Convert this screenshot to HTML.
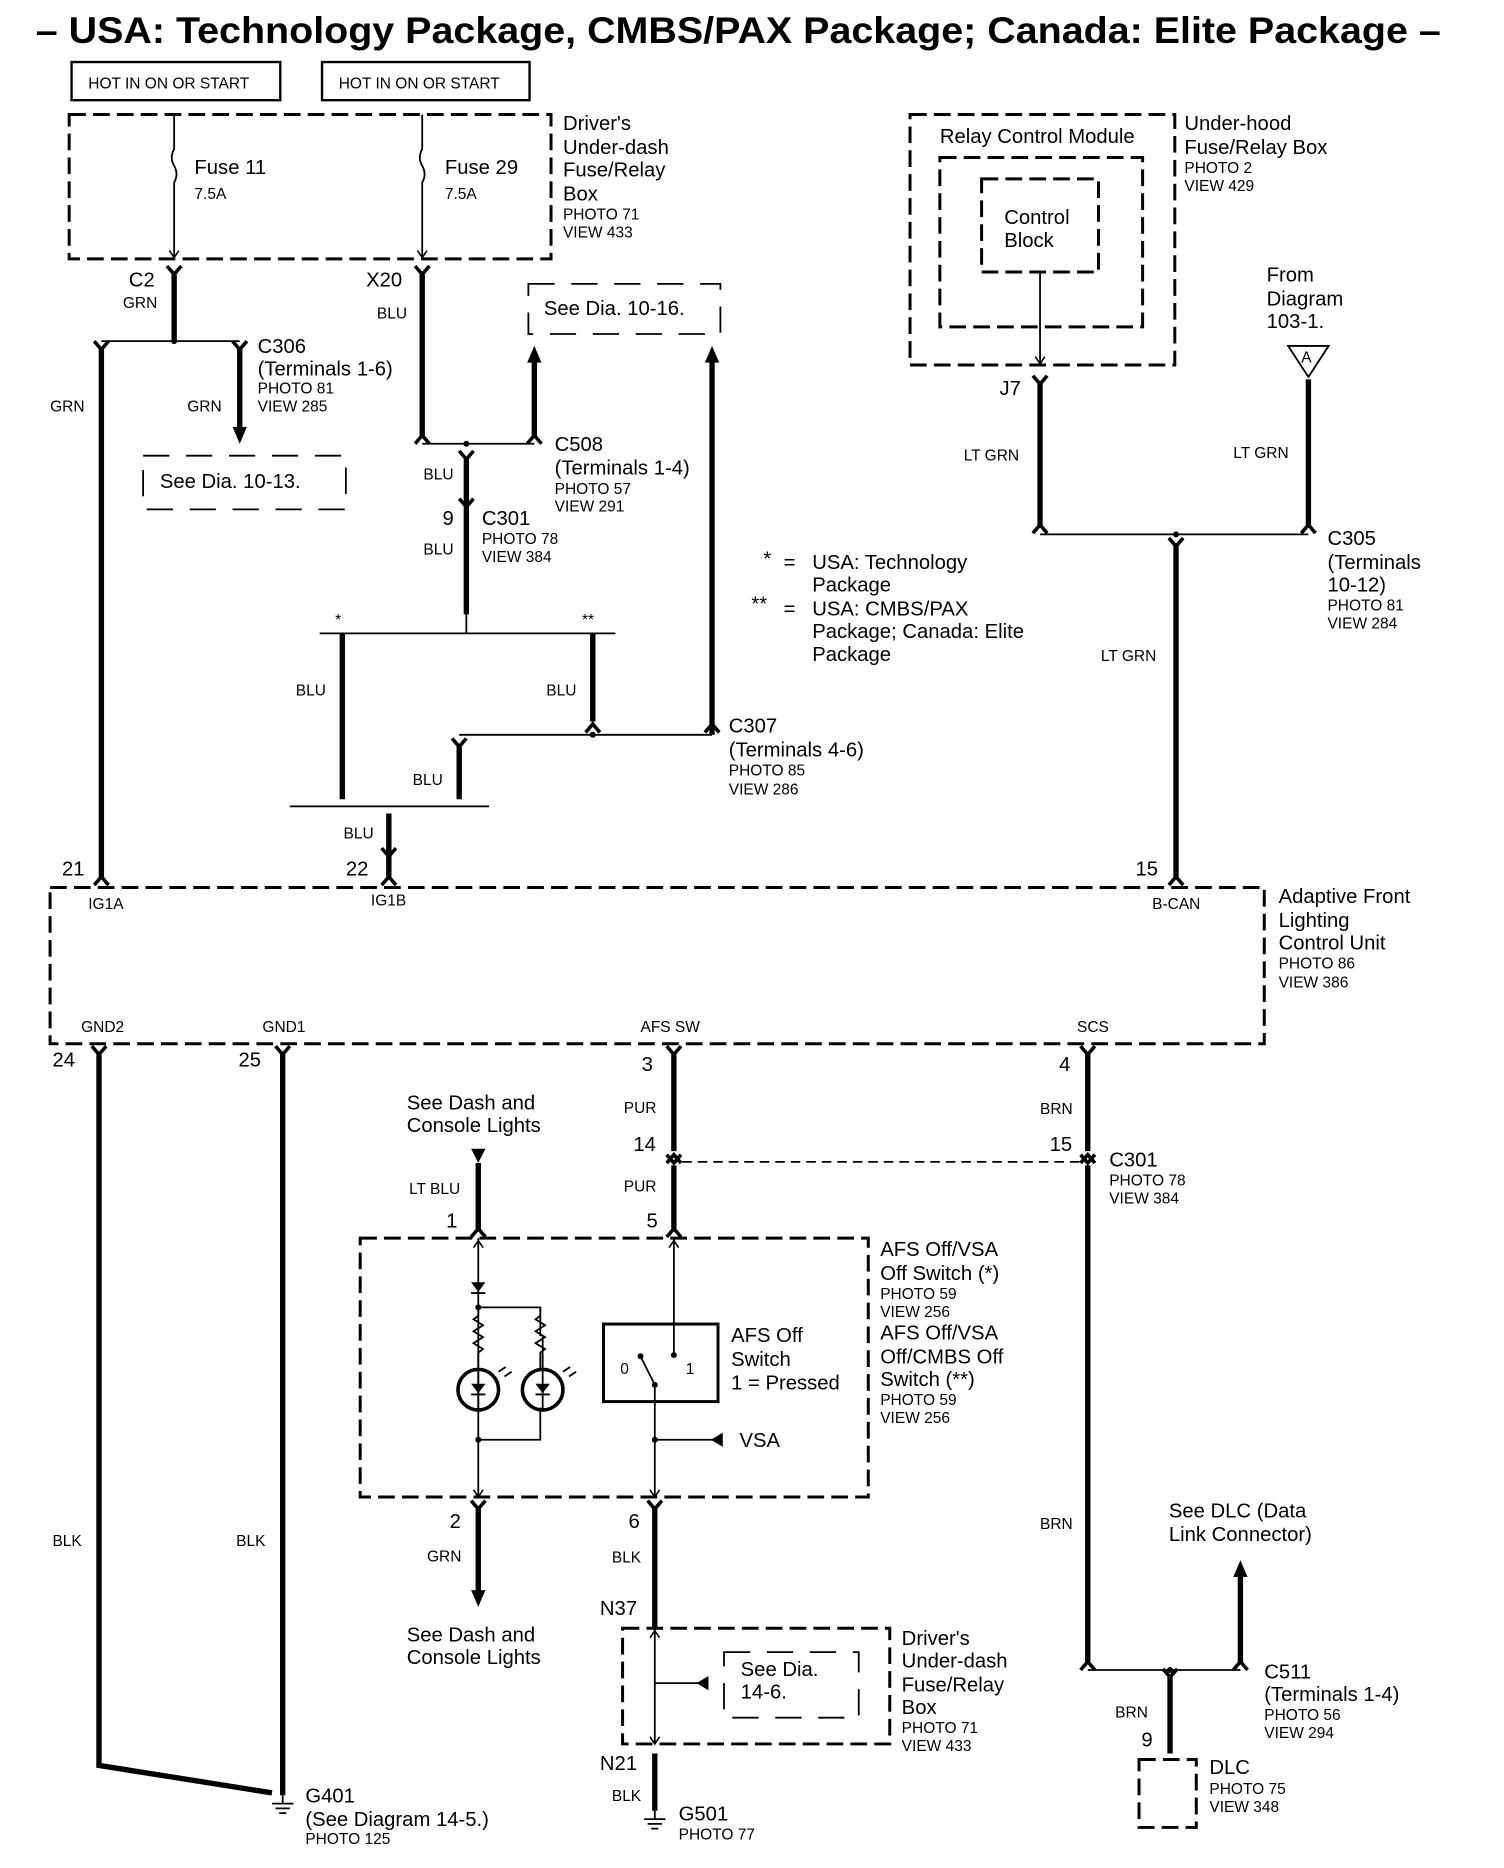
<!DOCTYPE html>
<html><head><meta charset="utf-8"><style>
html,body{margin:0;padding:0;background:#fff}
svg{display:block}
text{font-family:"Liberation Sans",Arial,sans-serif;fill:#000}
.m{font-size:17px}.s{font-size:13px}
</style></head><body>
<svg width="1504" height="1868" viewBox="0 0 1261 1566" preserveAspectRatio="none" xmlns="http://www.w3.org/2000/svg">
<defs>
<g id="fd"><path d="M-6,-7 L0,0 L6,-7" fill="none" stroke="#000" stroke-width="3"/></g>
<g id="fu"><path d="M-6,7 L0,0 L6,7" fill="none" stroke="#000" stroke-width="3"/></g>
<g id="ad"><path d="M-4,-6 L0,0 L4,-6" fill="none" stroke="#000" stroke-width="1.3"/></g>
<g id="au"><path d="M-4,6 L0,0 L4,6" fill="none" stroke="#000" stroke-width="1.3"/></g>
</defs>
<g fill="none" stroke="#000">
<text x="30" y="36" font-size="31" font-weight="bold" textLength="1178" lengthAdjust="spacingAndGlyphs" stroke="none">– USA: Technology Package, CMBS/PAX Package; Canada: Elite Package –</text>
<rect x="60" y="52" width="175" height="32" stroke-width="2"/>
<rect x="270" y="52" width="174" height="32" stroke-width="2"/>
<g stroke-width="2.5" stroke-dasharray="14,6">
<rect x="58" y="96" width="404" height="121"/>
<rect x="763" y="96" width="222" height="210"/>
<rect x="788" y="132" width="170" height="142"/>
<rect x="823" y="150" width="98" height="78"/>
<rect x="42" y="744" width="1018" height="131"/>
<rect x="302" y="1038" width="426" height="217"/>
<rect x="522" y="1365" width="224" height="97"/>
<rect x="955" y="1475" width="48" height="57"/>
</g>
<g stroke-width="1.5" stroke-dasharray="22,14">
<rect x="120" y="382" width="170" height="45"/>
<rect x="443" y="238" width="161" height="42"/>
<rect x="607" y="1385" width="113" height="55"/>
</g>
<g stroke-width="1.5">
<path d="M146,96 V125 q-4,7 0,14 q4,7 0,14 V215"/>
<path d="M354,96 V125 q-4,7 0,14 q4,7 0,14 V215"/>
<path d="M872,228 V304"/>
</g>
<use href="#ad" x="146" y="216"/><use href="#ad" x="354" y="216"/><use href="#ad" x="872" y="305"/>
<g stroke-width="4.5">
<path d="M146,230 V285"/><path d="M354,230 V365"/>
<path d="M85,293 V735"/><path d="M201,293 V360"/>
<path d="M448,365 V300"/><path d="M391,385 V515"/>
<path d="M287,531 V670"/><path d="M497,531 V605"/>
<path d="M597,616 V300"/><path d="M385,626 V670"/>
<path d="M326,682 V735"/>
<path d="M872,322 V440"/><path d="M1097,318 V440"/><path d="M986,458 V735"/>
<path d="M83,884 V1480 L228,1503"/><path d="M237,884 V1505"/>
<path d="M565,884 V965"/><path d="M565,977 V1030"/>
<path d="M912,884 V965"/><path d="M912,977 V1393"/>
<path d="M401,975 V1030"/>
<path d="M401,1265 V1335"/><path d="M549,1265 V1365"/>
<path d="M549,1470 V1518"/>
<path d="M1040,1393 V1320"/><path d="M981,1406 V1470"/>
</g>
<use href="#fd" x="146" y="230"/><use href="#fd" x="354" y="230"/>
<use href="#fd" x="85" y="293"/><use href="#fd" x="201" y="293"/>
<use href="#fu" x="354" y="365"/><use href="#fu" x="448" y="365"/>
<use href="#fd" x="391" y="385"/><use href="#fd" x="391" y="425"/>
<use href="#fu" x="497" y="607"/><use href="#fu" x="597" y="607"/>
<use href="#fd" x="385" y="626"/><use href="#fd" x="326" y="718"/>
<use href="#fu" x="85" y="735"/><use href="#fu" x="326" y="735"/><use href="#fu" x="986" y="735"/>
<use href="#fd" x="872" y="322"/><use href="#fu" x="872" y="440"/><use href="#fu" x="1097" y="440"/><use href="#fd" x="986" y="458"/>
<use href="#fd" x="83" y="884"/><use href="#fd" x="237" y="884"/><use href="#fd" x="565" y="884"/><use href="#fd" x="912" y="884"/>
<use href="#fu" x="565" y="968"/><use href="#fd" x="565" y="975"/><use href="#fu" x="912" y="968"/><use href="#fd" x="912" y="975"/>
<use href="#fu" x="401" y="1030"/><use href="#fu" x="565" y="1030"/>
<use href="#fd" x="401" y="1265"/><use href="#fd" x="549" y="1265"/>
<use href="#fu" x="912" y="1393"/><use href="#fu" x="1040" y="1393"/><use href="#fd" x="981" y="1406"/>
<g fill="#000" stroke="none">
<path d="M195,358 L207,358 L201,372 Z"/>
<path d="M442,304 L454,304 L448,290 Z"/>
<path d="M591,304 L603,304 L597,290 Z"/>
<path d="M395,963 L407,963 L401,975 Z"/>
<path d="M395,1333 L407,1333 L401,1347 Z"/>
<path d="M1034,1322 L1046,1322 L1040,1308 Z"/>
<path d="M606,1201 L606,1213 L596,1207 Z"/>
<path d="M594,1405 L594,1417 L584,1411 Z"/>
<circle cx="146" cy="286" r="2.5"/><circle cx="391" cy="372" r="2.5"/><circle cx="497" cy="616" r="2.5"/>
<circle cx="986" cy="448" r="2.5"/><circle cx="981" cy="1400" r="2.5"/>
<circle cx="401" cy="1096" r="2.5"/><circle cx="401" cy="1207" r="2.5"/><circle cx="549" cy="1207" r="2.5"/>
<circle cx="549" cy="1161" r="2.5"/><circle cx="537" cy="1137" r="2.5"/><circle cx="565" cy="1136" r="2.5"/>
</g>
<g stroke-width="1.5">
<path d="M85,286 H201"/><path d="M354,372 H448"/>
<path d="M268,531 H516"/><path d="M391,515 V531"/>
<path d="M385,616 H597"/><path d="M243,676 H410"/>
<path d="M872,448 H1097"/>
<path d="M912,1400 H1040"/>
<path d="M401,1038 V1255"/><path d="M401,1096 H453 V1120"/><path d="M401,1207 H453 V1180"/>
<path d="M401,1096 V1103 l-4,3 8,5 -8,5 8,5 -8,5 8,5 -4,3 V1148"/>
<path d="M453,1096 V1103 l-4,3 8,5 -8,5 8,5 -8,5 8,5 -4,3 V1148"/>
<path d="M565,1038 V1136"/><path d="M549,1161 V1255"/><path d="M549,1161 L537,1137"/>
<path d="M549,1207 H600"/>
<path d="M549,1365 V1462"/><path d="M549,1411 H588"/>
<path d="M572,974 H912" stroke-dasharray="8,5"/>
<path d="M1080,290 H1114 L1097,316 Z"/>
<path d="M237,1505 V1512 M228,1512 H246 M231,1516 H243 M234,1520 H240"/>
<path d="M549,1518 V1525 M540,1525 H558 M543,1529 H555 M546,1533 H552"/>
</g>
<use href="#au" x="401" y="1040"/><use href="#au" x="565" y="1040"/><use href="#ad" x="401" y="1255"/><use href="#ad" x="549" y="1255"/>
<use href="#au" x="549" y="1367"/><use href="#ad" x="549" y="1462"/>
<g stroke-width="3"><circle cx="401" cy="1165" r="17"/><circle cx="455" cy="1165" r="17"/>
<rect x="506" y="1110" width="96" height="65" stroke-width="2.5"/></g>
<g fill="#000" stroke="none">
<path d="M395,1075 H407 L401,1083 Z"/><path d="M395,1160 H407 L401,1168 Z"/><path d="M449,1160 H461 L455,1168 Z"/>
</g>
<g stroke-width="1.5"><path d="M395,1084 H407 M395,1169 H407 M449,1169 H461 M401,1148 V1183 M455,1120 V1183"/>
<path d="M418,1150 l6,-4 M423,1154 l6,-4 M472,1150 l6,-4 M477,1154 l6,-4"/></g>
</g>
<g stroke="none">
<text class="s" x="74" y="74">HOT IN ON OR START</text><text class="s" x="284" y="74">HOT IN ON OR START</text>
<text class="m" x="163" y="146">Fuse 11</text><text class="s" x="163" y="167">7.5A</text>
<text class="m" x="373" y="146">Fuse 29</text><text class="s" x="373" y="167">7.5A</text>
<text class="m" x="472" y="109">Driver's</text><text class="m" x="472" y="129">Under-dash</text><text class="m" x="472" y="148">Fuse/Relay</text><text class="m" x="472" y="168">Box</text><text class="s" x="472" y="184">PHOTO 71</text><text class="s" x="472" y="199">VIEW 433</text>
<text class="m" x="108" y="240">C2</text><text class="s" x="103" y="258">GRN</text>
<text class="m" x="307" y="240">X20</text><text class="s" x="316" y="267">BLU</text>
<text class="s" x="42" y="345">GRN</text><text class="s" x="157" y="345">GRN</text>
<text class="m" x="216" y="296">C306</text><text class="m" x="216" y="315">(Terminals 1-6)</text><text class="s" x="216" y="330">PHOTO 81</text><text class="s" x="216" y="345">VIEW 285</text>
<text class="m" x="134" y="409">See Dia. 10-13.</text><text class="m" x="456" y="264">See Dia. 10-16.</text>
<text class="m" x="465" y="378">C508</text><text class="m" x="465" y="398">(Terminals 1-4)</text><text class="s" x="465" y="414">PHOTO 57</text><text class="s" x="465" y="429">VIEW 291</text>
<text class="s" x="355" y="402">BLU</text><text class="m" x="371" y="440">9</text><text class="m" x="404" y="440">C301</text><text class="s" x="404" y="456">PHOTO 78</text><text class="s" x="404" y="471">VIEW 384</text><text class="s" x="355" y="465">BLU</text>
<text class="s" x="281" y="524">*</text><text class="s" x="488" y="524">**</text>
<text class="s" x="248" y="583">BLU</text><text class="s" x="458" y="583">BLU</text><text class="s" x="346" y="658">BLU</text><text class="s" x="288" y="703">BLU</text>
<text class="m" x="611" y="614">C307</text><text class="m" x="611" y="634">(Terminals 4-6)</text><text class="s" x="611" y="650">PHOTO 85</text><text class="s" x="611" y="666">VIEW 286</text>
<text class="m" x="640" y="474">*</text><text class="m" x="657" y="477">=</text><text class="m" x="681" y="477">USA: Technology</text><text class="m" x="681" y="496">Package</text>
<text class="m" x="630" y="512">**</text><text class="m" x="657" y="516">=</text><text class="m" x="681" y="516">USA: CMBS/PAX</text><text class="m" x="681" y="535">Package; Canada: Elite</text><text class="m" x="681" y="554">Package</text>
<text class="m" x="788" y="120">Relay Control Module</text><text class="m" x="842" y="188">Control</text><text class="m" x="842" y="207">Block</text>
<text class="m" x="993" y="109">Under-hood</text><text class="m" x="993" y="129">Fuse/Relay Box</text><text class="s" x="993" y="145">PHOTO 2</text><text class="s" x="993" y="160">VIEW 429</text>
<text class="m" x="1062" y="236">From</text><text class="m" x="1062" y="256">Diagram</text><text class="m" x="1062" y="275">103-1.</text>
<text class="s" x="1091" y="304">A</text>
<text class="m" x="838" y="331">J7</text><text class="s" x="808" y="386">LT GRN</text><text class="s" x="1034" y="384">LT GRN</text><text class="s" x="923" y="554">LT GRN</text>
<text class="m" x="1113" y="457">C305</text><text class="m" x="1113" y="477">(Terminals</text><text class="m" x="1113" y="496">10-12)</text><text class="s" x="1113" y="512">PHOTO 81</text><text class="s" x="1113" y="527">VIEW 284</text>
<text class="m" x="52" y="734">21</text><text class="m" x="290" y="734">22</text><text class="m" x="952" y="734">15</text>
<text class="s" x="74" y="762">IG1A</text><text class="s" x="311" y="759">IG1B</text><text class="s" x="966" y="762">B-CAN</text>
<text class="s" x="68" y="865">GND2</text><text class="s" x="220" y="865">GND1</text><text class="s" x="537" y="865">AFS SW</text><text class="s" x="903" y="865">SCS</text>
<text class="m" x="1072" y="757">Adaptive Front</text><text class="m" x="1072" y="777">Lighting</text><text class="m" x="1072" y="796">Control Unit</text><text class="s" x="1072" y="812">PHOTO 86</text><text class="s" x="1072" y="828">VIEW 386</text>
<text class="m" x="44" y="894">24</text><text class="m" x="200" y="894">25</text><text class="m" x="538" y="898">3</text><text class="m" x="888" y="898">4</text>
<text class="s" x="523" y="933">PUR</text><text class="s" x="872" y="934">BRN</text><text class="m" x="531" y="965">14</text><text class="m" x="880" y="965">15</text><text class="s" x="523" y="999">PUR</text>
<text class="m" x="930" y="978">C301</text><text class="s" x="930" y="994">PHOTO 78</text><text class="s" x="930" y="1009">VIEW 384</text>
<text class="m" x="341" y="930">See Dash and</text><text class="m" x="341" y="949">Console Lights</text><text class="s" x="343" y="1001">LT BLU</text>
<text class="m" x="374" y="1029">1</text><text class="m" x="542" y="1029">5</text>
<text class="m" x="738" y="1053">AFS Off/VSA</text><text class="m" x="738" y="1073">Off Switch (*)</text><text class="s" x="738" y="1089">PHOTO 59</text><text class="s" x="738" y="1104">VIEW 256</text>
<text class="m" x="738" y="1123">AFS Off/VSA</text><text class="m" x="738" y="1143">Off/CMBS Off</text><text class="m" x="738" y="1162">Switch (**)</text><text class="s" x="738" y="1178">PHOTO 59</text><text class="s" x="738" y="1193">VIEW 256</text>
<text class="m" x="613" y="1125">AFS Off</text><text class="m" x="613" y="1145">Switch</text><text class="m" x="613" y="1165">1 = Pressed</text>
<text class="s" x="520" y="1152">0</text><text class="s" x="575" y="1152">1</text><text class="m" x="620" y="1213">VSA</text>
<text class="m" x="377" y="1281">2</text><text class="m" x="527" y="1281">6</text><text class="s" x="358" y="1309">GRN</text><text class="s" x="513" y="1310">BLK</text>
<text class="s" x="44" y="1296">BLK</text><text class="s" x="198" y="1296">BLK</text><text class="s" x="872" y="1282">BRN</text>
<text class="m" x="341" y="1376">See Dash and</text><text class="m" x="341" y="1395">Console Lights</text>
<text class="m" x="503" y="1354">N37</text><text class="m" x="503" y="1484">N21</text><text class="s" x="513" y="1510">BLK</text>
<text class="m" x="621" y="1405">See Dia.</text><text class="m" x="621" y="1424">14-6.</text>
<text class="m" x="756" y="1379">Driver's</text><text class="m" x="756" y="1398">Under-dash</text><text class="m" x="756" y="1418">Fuse/Relay</text><text class="m" x="756" y="1437">Box</text><text class="s" x="756" y="1453">PHOTO 71</text><text class="s" x="756" y="1468">VIEW 433</text>
<text class="m" x="980" y="1272">See DLC (Data</text><text class="m" x="980" y="1292">Link Connector)</text>
<text class="m" x="1060" y="1407">C511</text><text class="m" x="1060" y="1426">(Terminals 1-4)</text><text class="s" x="1060" y="1442">PHOTO 56</text><text class="s" x="1060" y="1457">VIEW 294</text>
<text class="s" x="935" y="1440">BRN</text><text class="m" x="957" y="1464">9</text>
<text class="m" x="1014" y="1487">DLC</text><text class="s" x="1014" y="1504">PHOTO 75</text><text class="s" x="1014" y="1519">VIEW 348</text>
<text class="m" x="256" y="1511">G401</text><text class="m" x="256" y="1531">(See Diagram 14-5.)</text><text class="s" x="256" y="1546">PHOTO 125</text>
<text class="m" x="569" y="1526">G501</text><text class="s" x="569" y="1542">PHOTO 77</text>
</g>
</svg>
</body></html>
